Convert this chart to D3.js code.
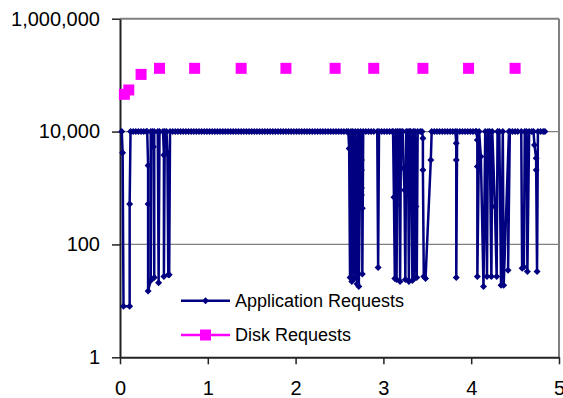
<!DOCTYPE html>
<html>
<head>
<meta charset="utf-8">
<script src="https://cdn.jsdelivr.net/npm/d3@7"></script>
<style>
  body { margin: 0; background: #fff; }
  text { font-family: "Liberation Sans", Arial, sans-serif; fill: #000; }
</style>
</head>
<body>
<div class="chart"></div>
<script>
var w = 563;
var h = 398;

// tick labels
var xTicks = [0, 1, 2, 3, 4, 5];
var yTicks = [1, 100, 10000, 1000000];

// disk requests (x, y)
var diskX = [0.05, 0.10, 0.24, 0.45, 0.85, 1.38, 1.89, 2.45, 2.89, 3.45, 3.97, 4.50];
var diskY = [45700, 54600, 103000, 132000, 132000, 132000, 132000, 132000, 132000, 132000, 132000, 132000];

// application requests, [x, y] in order
var appRequests = [
  [0.02,10000],[0.03,4200],[0.04,8],[0.11,8],[0.11,520],[0.12,10000],
  [0.15,10000],[0.18,10000],[0.21,10000],[0.24,10000],[0.27,10000],[0.30,10000],
  [0.31,10000],[0.32,2500],[0.32,520],[0.32,15],[0.35,23],[0.35,10000],
  [0.37,10000],[0.38,5400],[0.39,26],[0.39,10000],[0.43,10000],[0.44,21],[0.45,10000],
  [0.49,10000],[0.50,3850],[0.50,27],[0.51,10000],[0.53,10000],[0.54,4200],[0.55,29],
  [0.56,29],[0.57,10000],[0.60,10000],
  [0.63,10000],[0.66,10000],[0.69,10000],[0.72,10000],[0.75,10000],[0.78,10000],
  [0.81,10000],[0.84,10000],[0.87,10000],[0.90,10000],[0.93,10000],[0.96,10000],
  [0.99,10000],[1.02,10000],[1.05,10000],[1.08,10000],[1.11,10000],[1.14,10000],
  [1.17,10000],[1.20,10000],[1.23,10000],[1.26,10000],[1.29,10000],[1.32,10000],
  [1.35,10000],[1.38,10000],[1.41,10000],[1.44,10000],[1.47,10000],[1.50,10000],
  [1.53,10000],[1.56,10000],[1.59,10000],[1.62,10000],[1.65,10000],[1.68,10000],
  [1.71,10000],[1.74,10000],[1.77,10000],[1.80,10000],[1.83,10000],[1.86,10000],
  [1.89,10000],[1.92,10000],[1.95,10000],[1.98,10000],[2.01,10000],[2.04,10000],
  [2.07,10000],[2.10,10000],[2.13,10000],[2.16,10000],[2.19,10000],[2.22,10000],
  [2.25,10000],[2.28,10000],[2.31,10000],[2.34,10000],[2.37,10000],[2.40,10000],
  [2.43,10000],[2.46,10000],[2.49,10000],[2.52,10000],[2.55,10000],[2.58,10000],
  [2.60,10000],[2.61,5000],[2.62,26],[2.63,10000],[2.64,22],[2.65,10000],[2.67,25],
  [2.68,10000],[2.70,20],[2.71,10000],[2.72,3150],[2.72,18],[2.74,10000],
  [2.75,3150],[2.75,2090],[2.75,1000],[2.75,750],[2.76,436],[2.76,30],[2.77,10000],
  [2.80,10000],[2.83,10000],[2.86,10000],[2.89,10000],[2.93,10000],[2.94,39],[2.95,10000],
  [2.98,10000],[3.01,10000],[3.04,10000],[3.07,10000],[3.10,10000],
  [3.11,10000],[3.12,684],[3.13,25],[3.14,10000],[3.15,500],[3.15,24],[3.16,10000],
  [3.18,10000],[3.19,22],[3.20,10000],[3.22,10000],[3.23,2230],[3.24,920],[3.25,24],
  [3.26,10000],[3.28,10000],[3.29,22],[3.30,10000],[3.31,10000],[3.32,1380],[3.33,23],
  [3.34,10000],[3.35,25],[3.36,10000],[3.37,468],[3.38,26],[3.39,10000],[3.42,10000],
  [3.44,10000],[3.45,7600],[3.45,2090],[3.46,27],[3.48,25],[3.54,3150],[3.55,10000],
  [3.58,10000],[3.61,10000],[3.64,10000],[3.67,10000],[3.70,10000],[3.73,10000],
  [3.76,10000],[3.79,10000],
  [3.82,10000],[3.83,6200],[3.83,3150],[3.83,26],[3.84,10000],
  [3.87,10000],[3.90,10000],[3.93,10000],[3.96,10000],[3.99,10000],[4.02,10000],[4.05,10000],
  [4.06,10000],[4.07,7100],[4.07,2400],[4.07,27],[4.09,10000],[4.11,3600],[4.14,18],
  [4.16,10000],[4.18,27],[4.19,10000],[4.21,10000],[4.23,27],[4.24,10000],
  [4.27,468],[4.29,27],[4.30,10000],[4.32,10000],[4.34,19],[4.36,10000],
  [4.37,19],[4.43,10000],[4.42,35],[4.44,10000],
  [4.47,10000],[4.50,10000],[4.53,10000],
  [4.57,10000],[4.58,38],[4.60,40],[4.61,10000],[4.63,10000],[4.64,33],[4.66,10000],
  [4.69,10000],[4.71,10000],[4.72,5800],[4.74,3370],[4.74,2090],[4.75,33],[4.76,10000],
  [4.79,10000],[4.82,10000],[4.84,10000]
];

var legendLabels = ["Application Requests", "Disk Requests"];

var navy = "#000080";
var magenta = "#FF00FF";

var svg = d3.select(".chart")
            .append("svg")
            .attr("width", w)
            .attr("height", h);

var x = d3.scaleLinear().domain([0, 5]).range([120, 559]);
var y = d3.scaleLog().domain([1, 1000000]).range([357.3, 18.7]);

// gridlines (gray), incl. the top one
svg.selectAll(".grid")
   .data(yTicks.slice(1))
   .enter()
   .append("line")
   .attr("x1", x(0))
   .attr("x2", x(5))
   .attr("y1", function (d) { return y(d); })
   .attr("y2", function (d) { return y(d); })
   .attr("stroke", "#808080")
   .attr("stroke-width", function (d) { return d == 1000000 ? 2 : 1.3; });

// right border
svg.append("line")
   .attr("x1", x(5)).attr("x2", x(5))
   .attr("y1", y(1000000)).attr("y2", y(1))
   .attr("stroke", "#808080")
   .attr("stroke-width", 2);

// axes
var xAxis = svg.append("g")
               .attr("transform", "translate(0," + y(1) + ")")
               .call(d3.axisBottom(x).tickValues(xTicks).tickSize(7).tickSizeOuter(0).tickFormat(d3.format("d")));
var yAxis = svg.append("g")
               .attr("transform", "translate(" + x(0) + ",0)")
               .call(d3.axisLeft(y).tickValues(yTicks).tickSize(8).tickSizeOuter(0).tickFormat(d3.format(",")));

[xAxis, yAxis].forEach(function (a) {
  a.select(".domain").attr("stroke", "#222").attr("stroke-width", 2);
  a.selectAll(".tick line").attr("stroke", "#222").attr("stroke-width", 1.5);
  a.selectAll(".tick text")
   .style("font-family", '"Liberation Sans", Arial, sans-serif')
   .style("font-size", "20px")
   .attr("fill", "#000");
});
xAxis.selectAll(".tick text").attr("y", 23.5).attr("dy", "0.71em");
yAxis.selectAll(".tick text").attr("x", -20);

// application requests line
var line = d3.line()
             .x(function (d) { return x(d[0]); })
             .y(function (d) { return y(d[1]); });

svg.append("path")
   .datum(appRequests)
   .attr("d", line)
   .attr("fill", "none")
   .attr("stroke", navy)
   .attr("stroke-width", 2.5)
   .attr("stroke-linejoin", "round");

function diamond(s) {
  return "M0," + (-s) + "L" + s + ",0L0," + s + "L" + (-s) + ",0Z";
}

svg.selectAll(".app-dot")
   .data(appRequests)
   .enter()
   .append("path")
   .attr("d", diamond(3.5))
   .attr("transform", function (d) { return "translate(" + x(d[0]) + "," + y(d[1]) + ")"; })
   .attr("fill", navy);

// disk requests: markers only
var sq = 11;
svg.selectAll(".disk")
   .data(diskX)
   .enter()
   .append("rect")
   .attr("x", function (d) { return x(d) - sq / 2; })
   .attr("y", function (d, i) { return y(diskY[i]) - sq / 2; })
   .attr("width", sq)
   .attr("height", sq)
   .attr("fill", magenta);

// legend
var legend = svg.selectAll(".legend")
                .data(legendLabels)
                .enter()
                .append("g")
                .attr("transform", function (d, i) { return "translate(181," + (300.7 + i * 34.3) + ")"; });

legend.append("line")
      .attr("x1", 0).attr("x2", 49)
      .attr("y1", 0).attr("y2", 0)
      .attr("stroke", function (d, i) { return i == 0 ? navy : magenta; })
      .attr("stroke-width", 2.5);

legend.append("path")
      .attr("d", function (d, i) {
        return i == 0 ? diamond(3.5) : "M-5.5,-5.5h11v11h-11Z";
      })
      .attr("transform", "translate(24.5,0)")
      .attr("fill", function (d, i) { return i == 0 ? navy : magenta; });

legend.append("text")
      .attr("x", 54)
      .attr("dy", "0.35em")
      .style("font-size", "18px")
      .text(function (d) { return d; });
</script>
</body>
</html>
